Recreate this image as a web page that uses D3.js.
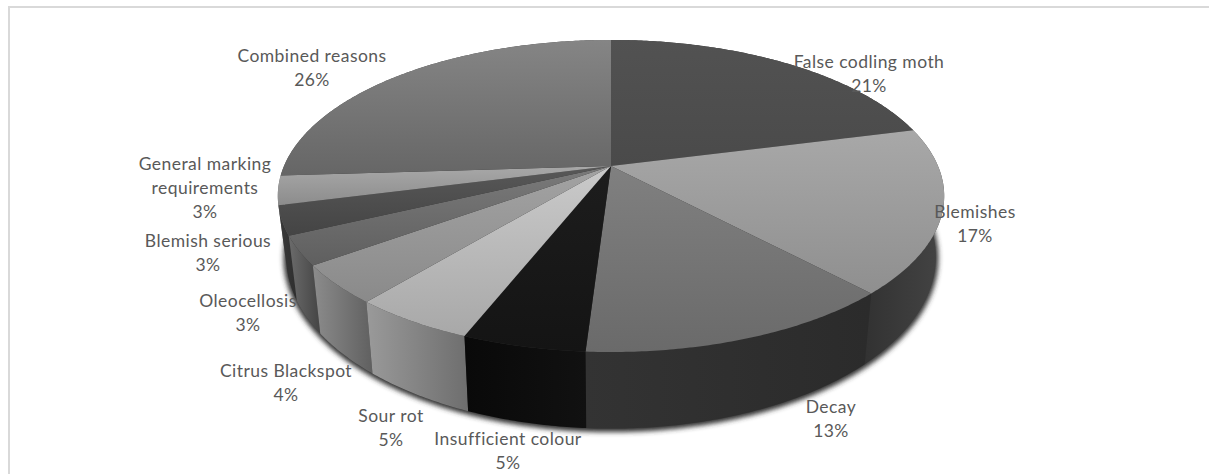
<!DOCTYPE html>
<html>
<head>
<meta charset="utf-8">
<script src="https://cdn.jsdelivr.net/npm/d3@7"></script>
<style>
  html, body { margin: 0; padding: 0; background: #fff; overflow: hidden; }
  svg { display: block; }
  text { font-family: Lato, "Open Sans", sans-serif; font-size: 17.5px; letter-spacing: 0.45px; fill: #595959; text-anchor: middle; }
</style>
</head>
<body>
<svg id="chart" width="1209" height="474"></svg>
<script>
var categories = ["False codling moth", "Blemishes", "Decay", "Insufficient colour", "Sour rot",
  "Citrus Blackspot", "Oleocellosis", "Blemish serious", "General marking requirements", "Combined reasons"];
var values = [21, 17, 13, 5, 5, 4, 3, 3, 3, 26];

// grey shades per slice: top face light/dark, side face light/dark
var topLight = ["#525252", "#a8a8a8", "#808080", "#1d1d1d", "#cacaca", "#a3a3a3", "#7a7a7a", "#585858", "#a8a8a8", "#858585"];
var topDark = ["#4a4a4a", "#8f8f8f", "#6a6a6a", "#141414", "#a8a8a8", "#8a8a8a", "#5f5f5f", "#444444", "#8c8c8c", "#666666"];
var sideLeft = ["#333333", "#323232", "#333333", "#090909", "#9a9a9a", "#8c8c8c", "#6b6b6b", "#3a3a3a", "#666666", "#444444"];
var sideRight = ["#333333", "#444444", "#2b2b2b", "#111111", "#6e6e6e", "#606060", "#444444", "#2e2e2e", "#666666", "#444444"];

// label centres, first line baseline
var labelAt = [[869, 68], [975, 218], [831, 413], [508, 445], [391, 422], [286, 377], [248, 307], [208, 247], [205, 170], [312, 62]];

var svg = d3.select("#chart");

// panel edge, open on the right and bottom
svg.append("path")
  .attr("d", "M9,474V7H1209")
  .attr("fill", "none")
  .attr("stroke", "#d9d9d9")
  .attr("stroke-width", 2);

// perspective projection of the unit disc, apex at (cx, cy)
var cx = 611, cy = 166;
var k = 0.192;
var scaleX = d3.scaleLinear().domain([-1, 1]).range([-327, 327]);
var scaleY = d3.scaleLinear().domain([-1, 1]).range([-150.3, 150.3]);

function rimPoint(a) {
  var x = Math.sin(a), y = -Math.cos(a);
  var w = 1 - k * y;
  return [cx + scaleX(x) / w, cy + scaleY(y) / w];
}
// same rim seen on the underside of the disc
function basePoint(a) {
  var p = rimPoint(a);
  return [cx + (p[0] - cx) * 0.975, cy + (p[1] - cy) * 1.1 + 58];
}
function arcAngles(start, end) {
  var n = Math.max(2, Math.ceil((end - start) / 0.01));
  return d3.range(n + 1).map(function(i) { return start + (end - start) * i / n; });
}

var line = d3.line();
var slices = d3.pie().sort(null).value(function(d) { return d; })(values);

var defs = svg.append("defs");
defs.append("filter").attr("id", "soft")
  .attr("x", "-5%").attr("y", "-5%").attr("width", "110%").attr("height", "110%")
  .append("feGaussianBlur").attr("stdDeviation", 2.5);

slices.forEach(function(s, i) {
  var top = defs.append("linearGradient").attr("id", "top" + i)
    .attr("x1", 0).attr("y1", 0).attr("x2", 0).attr("y2", 1);
  top.append("stop").attr("offset", 0).attr("stop-color", topLight[i]);
  top.append("stop").attr("offset", 1).attr("stop-color", topDark[i]);
  var side = defs.append("linearGradient").attr("id", "side" + i)
    .attr("x1", 0).attr("y1", 0).attr("x2", 1).attr("y2", 0);
  side.append("stop").attr("offset", 0).attr("stop-color", sideLeft[i]);
  side.append("stop").attr("offset", 1).attr("stop-color", sideRight[i]);
});

// soft shadow under the disc
svg.append("path")
  .attr("d", line(arcAngles(0, 2 * Math.PI).map(basePoint)) + "Z")
  .attr("transform", "translate(0,1)")
  .attr("fill", "#333")
  .attr("stroke", "#333")
  .attr("stroke-width", 5)
  .attr("filter", "url(#soft)");

// side walls, back ones first
var wallOrder = slices.slice().sort(function(a, b) {
  return Math.cos((b.startAngle + b.endAngle) / 2) - Math.cos((a.startAngle + a.endAngle) / 2);
});
svg.append("g").selectAll("path")
  .data(wallOrder)
  .join("path")
  .attr("d", function(d) {
    var angles = arcAngles(d.startAngle, d.endAngle);
    return line(angles.map(rimPoint).concat(angles.slice().reverse().map(basePoint))) + "Z";
  })
  .attr("fill", function(d) { return "url(#side" + d.index + ")"; });

// top faces
svg.append("g").selectAll("path")
  .data(slices)
  .join("path")
  .attr("d", function(d) {
    return line([[cx, cy]].concat(arcAngles(d.startAngle, d.endAngle).map(rimPoint))) + "Z";
  })
  .attr("fill", function(d) { return "url(#top" + d.index + ")"; });

// labels: name over percentage, long names wrap
var labelLines = categories.map(function(c, i) {
  var parts = c == "General marking requirements" ? ["General marking", "requirements"] : [c];
  return parts.concat(values[i] + "%");
});
var labels = svg.append("g").selectAll("text")
  .data(labelLines)
  .join("text")
  .attr("x", function(d, i) { return labelAt[i][0]; })
  .attr("y", function(d, i) { return labelAt[i][1]; });
labels.selectAll("tspan")
  .data(function(d, i) { return d.map(function(t) { return { t: t, x: labelAt[i][0] }; }); })
  .join("tspan")
  .attr("x", function(d) { return d.x; })
  .attr("dy", function(d, j) { return j ? 24 : 0; })
  .text(function(d) { return d.t; });
</script>
</body>
</html>
